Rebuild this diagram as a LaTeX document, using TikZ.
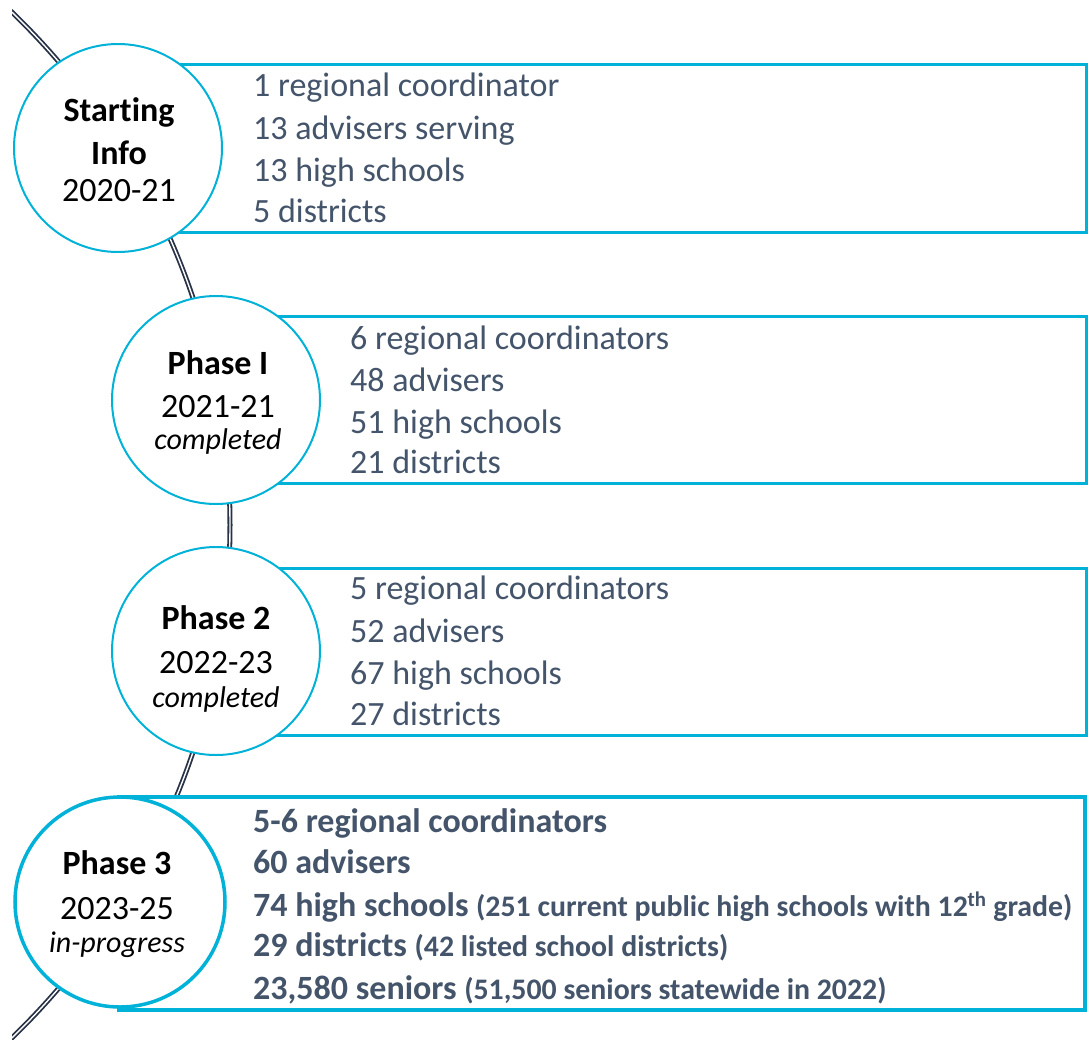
\documentclass[tikz,border=0pt]{standalone}
\usepackage{fontspec}
\setmainfont{Carlito}[Ligatures=NoCommon]
\definecolor{cyanline}{RGB}{0,178,216}
\definecolor{bodytext}{RGB}{68,84,106}
\definecolor{arcline}{RGB}{40,50,70}
\begin{document}
\begin{tikzpicture}[x=1pt,y=-1pt,
  phase/.style={circle,draw=cyanline,fill=white,line width=2pt,minimum size=208pt,inner sep=0pt},
  phasethick/.style={phase,line width=3.5pt,minimum size=210pt},
  infobox/.style={rectangle,draw=cyanline,fill=white,line width=2.6pt,anchor=north west,inner sep=0pt},
  infoboxthick/.style={infobox,line width=3.8pt},
  item/.style={anchor=base west,inner sep=0pt,text=bodytext,font=\fontsize{34}{40}\selectfont},
  itembold/.style={item,font=\fontsize{34}{40}\selectfont\bfseries},
  ctitle/.style={anchor=base,inner sep=0pt,font=\fontsize{34}{40}\selectfont\bfseries},
  cyear/.style={anchor=base,inner sep=0pt,font=\fontsize{34}{40}\selectfont},
  cstate/.style={anchor=base,inner sep=0pt,font=\fontsize{30}{36}\selectfont\itshape}
]
\useasboundingbox (0,0) rectangle (1092,1039);
\begin{scope}
\clip (12,0) rectangle (1092,1039);
\coordinate (arccenter) at (-482,525);
\draw[draw=arcline,double=white,line width=1.8pt,double distance=1.4pt] (arccenter) circle[radius=712pt];
\end{scope}

% boxes
\node[infobox,minimum width=967pt,minimum height=168pt] (b1) at (118,63) {};
\node[infobox,minimum width=869pt,minimum height=167pt] (b2) at (216,315) {};
\node[infobox,minimum width=869pt,minimum height=167pt] (b3) at (216,567) {};
\node[infoboxthick,minimum width=966pt,minimum height=213pt] (b4) at (117,795) {};

% circles
\node[phase] (c1) at (118,148) {};
\node[phase] (c2) at (216,400) {};
\node[phase] (c3) at (216,651) {};
\node[phasethick] (c4) at (120,902) {};

\node[ctitle] (c1a) at (119,121) {Starting};
\node[ctitle] (c1b) at (119,164) {Info};
\node[cyear]  (c1c) at (119,201) {2020-21};

\node[ctitle] (c2a) at (218,374) {Phase I};
\node[cyear]  (c2b) at (218,417) {2021-21};
\node[cstate] (c2c) at (218,449) {completed};

\node[ctitle] (c3a) at (216,629) {Phase 2};
\node[cyear]  (c3b) at (216,673) {2022-23};
\node[cstate] (c3c) at (216,707) {completed};

\node[ctitle] (c4a) at (117,874) {Phase 3};
\node[cyear]  (c4b) at (117,919) {2023-25};
\node[cstate] (c4c) at (117,952) {in-progress};

% box 1 text
\node[item] (t11) at (253,96) {1 regional coordinator};
\node[item] (t12) at (253,139) {13 advisers serving};
\node[item] (t13) at (253,181) {13 high schools};
\node[item] (t14) at (253,222) {5 districts};
% box 2 text
\node[item] (t21) at (350,349) {6 regional coordinators};
\node[item] (t22) at (350,391) {48 advisers};
\node[item] (t23) at (350,433) {51 high schools};
\node[item] (t24) at (350,473) {21 districts};
% box 3 text
\node[item] (t31) at (350,599) {5 regional coordinators};
\node[item] (t32) at (350,642) {52 advisers};
\node[item] (t33) at (350,684) {67 high schools};
\node[item] (t34) at (350,725) {27 districts};
% box 4 text
\node[itembold] (t41) at (253,832) {5-6 regional coordinators};
\node[itembold] (t42) at (253,873) {60 advisers};
\node[itembold] (t43) at (253,916) {74 high schools {\fontsize{29.8}{34}\selectfont(251 current public high schools with 12\textsuperscript{th} grade)}};
\node[itembold] (t44) at (253,956) {29 districts {\fontsize{29.8}{34}\selectfont(42 listed school districts)}};
\node[itembold] (t45) at (253,999) {23,580 seniors {\fontsize{29.8}{34}\selectfont(51,500 seniors statewide in 2022)}};
\end{tikzpicture}
\end{document}
